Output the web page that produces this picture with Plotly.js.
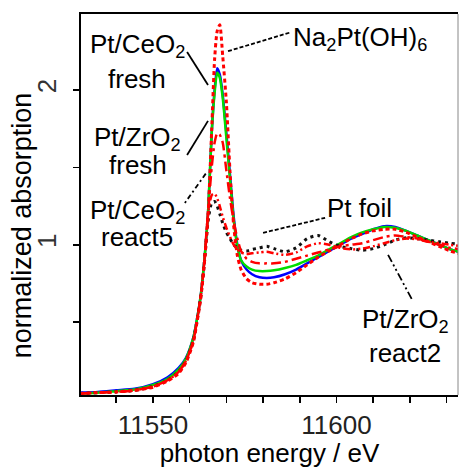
<!DOCTYPE html>
<html>
<head>
<meta charset="utf-8">
<script src="https://cdn.plot.ly/plotly-3.0.1.min.js"></script>
<style>html,body{margin:0;padding:0;background:#fff;}#chart{width:462px;height:468px;}</style>
</head>
<body>
<div id="chart"></div>
<script>
// photon energy grid (eV)
const energy = [11530, 11535, 11540, 11545, 11550, 11554, 11557, 11559, 11561, 11562, 11563, 11564, 11565, 11566, 11566.8, 11567.5, 11568.2, 11569, 11570, 11571, 11572, 11573, 11574, 11575.5, 11577, 11579, 11581, 11583, 11586, 11589, 11592, 11595, 11598, 11601, 11604, 11607, 11610, 11613, 11616, 11619, 11622, 11625, 11628, 11631, 11634];

// normalized absorption for each sample
const na2PtOH6 = [0.04, 0.045, 0.05, 0.06, 0.08, 0.12, 0.17, 0.24, 0.37, 0.5, 0.65, 0.88, 1.18, 1.74, 2.2, 2.38, 2.42, 2.22, 1.92, 1.47, 1.12, 0.93, 0.84, 0.78, 0.755, 0.745, 0.745, 0.755, 0.78, 0.82, 0.87, 0.92, 0.96, 1.0, 1.04, 1.07, 1.09, 1.1, 1.1, 1.08, 1.05, 1.02, 0.99, 0.96, 0.94];
const ptCeO2Fresh = [0.045, 0.05, 0.06, 0.07, 0.1, 0.145, 0.205, 0.27, 0.4, 0.52, 0.67, 0.9, 1.2, 1.72, 2.0, 2.14, 2.1, 1.97, 1.72, 1.45, 1.18, 1.0, 0.9, 0.84, 0.81, 0.79, 0.785, 0.79, 0.81, 0.84, 0.88, 0.92, 0.96, 1.0, 1.04, 1.07, 1.1, 1.12, 1.115, 1.09, 1.06, 1.03, 1.0, 0.97, 0.95];
const ptZrO2Fresh = [0.04, 0.045, 0.055, 0.065, 0.095, 0.135, 0.195, 0.265, 0.4, 0.52, 0.67, 0.9, 1.2, 1.72, 1.98, 2.11, 2.08, 1.95, 1.69, 1.42, 1.16, 0.99, 0.9, 0.86, 0.84, 0.83, 0.83, 0.835, 0.85, 0.87, 0.9, 0.93, 0.97, 1.01, 1.05, 1.08, 1.1, 1.115, 1.11, 1.09, 1.06, 1.03, 1.0, 0.97, 0.95];
const ptCeO2React5 = [0.04, 0.045, 0.05, 0.06, 0.085, 0.125, 0.18, 0.25, 0.38, 0.51, 0.66, 0.89, 1.2, 1.5, 1.66, 1.72, 1.71, 1.66, 1.48, 1.3, 1.15, 1.04, 0.96, 0.91, 0.89, 0.88, 0.88, 0.88, 0.89, 0.91, 0.93, 0.95, 0.97, 0.99, 1.0, 1.01, 1.03, 1.05, 1.06, 1.05, 1.04, 1.02, 1.0, 0.98, 0.97];
const ptZrO2React2 = [0.04, 0.045, 0.05, 0.06, 0.085, 0.125, 0.18, 0.25, 0.38, 0.51, 0.66, 0.89, 1.2, 1.32, 1.33, 1.3, 1.25, 1.18, 1.11, 1.05, 1.0, 0.97, 0.95, 0.94, 0.945, 0.95, 0.955, 0.945, 0.935, 0.95, 0.99, 1.01, 1.0, 0.98, 0.97, 0.975, 0.99, 1.01, 1.03, 1.04, 1.035, 1.02, 1.01, 1.0, 0.99];
const ptFoil = [0.04, 0.045, 0.05, 0.06, 0.085, 0.125, 0.18, 0.25, 0.38, 0.51, 0.66, 0.88, 1.15, 1.27, 1.28, 1.25, 1.2, 1.14, 1.08, 1.04, 1.0, 0.98, 0.965, 0.96, 0.97, 0.98, 0.99, 0.975, 0.955, 0.98, 1.04, 1.06, 1.02, 0.99, 0.975, 0.965, 0.975, 1.0, 1.03, 1.045, 1.04, 1.03, 1.02, 1.01, 1.0];

// tick labels
const xTickVals = [11550, 11600];
const xTickText = ['11550', '11600'];
const yTickVals = [1, 2];
const yTickText = ['1', '2'];

const FONT = 'Liberation Sans, Arial, sans-serif';

function tr(name, y, color, width, dash) {
  return {x: energy, y: y, name: name, type: 'scatter', mode: 'lines',
    line: {color: color, width: width, dash: dash, shape: 'spline', smoothing: 0.6},
    hoverinfo: 'x+y+name'};
}

const data = [
  tr('Pt/CeO2 fresh', ptCeO2Fresh, '#0000ff', 2.5, 'solid'),
  tr('Pt/ZrO2 fresh', ptZrO2Fresh, '#00dd00', 2.5, 'solid'),
  tr('Pt foil', ptFoil, '#111111', 3, '3px,4px'),
  tr('Pt/ZrO2 react2', ptZrO2React2, '#ff0000', 2.5, '7px,3px,2px,3px,2px,3px'),
  tr('Pt/CeO2 react5', ptCeO2React5, '#ff0000', 2.5, '10px,4px,3px,4px'),
  tr('Na2Pt(OH)6', na2PtOH6, '#ff0000', 3, '4px,3px')
];

function leader(x0, y0, x1, y1, dash) {
  return {type: 'line', xref: 'x', yref: 'y', x0: x0, y0: y0, x1: x1, y1: y1,
    line: {color: '#000', width: 1.8, dash: dash}};
}

const shapes = [
  leader(11559.3, 2.245, 11565.0, 2.032, 'solid'),
  leader(11559.3, 1.58, 11565.0, 1.80, 'solid'),
  leader(11558.7, 1.27, 11564.7, 1.47, '2px,3px,5px,3px'),
  leader(11570.45, 2.25, 11587.3, 2.37, '4px,2px'),
  leader(11580.0, 1.077, 11596.9, 1.174, '4px,2px'),
  leader(11614.05, 0.935, 11620.6, 0.645, '8px,3px,2px,3px,2px,3px'),
  // right frame line
  {type: 'line', xref: 'paper', yref: 'paper', x0: 1, x1: 1, y0: 0, y1: 1,
    line: {color: '#888', width: 1}}
];

function label(x, y, text) {
  return {x: x, y: y, xref: 'x', yref: 'y', text: text, showarrow: false,
    font: {family: FONT, size: 26, color: '#000'}, align: 'center',
    xanchor: 'center', yanchor: 'middle'};
}

const annotations = [
  label(11545.7, 2.284, 'Pt/CeO<sub>2</sub>'),
  label(11545.7, 2.071, 'fresh'),
  label(11545.9, 1.684, 'Pt/ZrO<sub>2</sub>'),
  label(11545.9, 1.516, 'fresh'),
  label(11545.7, 1.213, 'Pt/CeO<sub>2</sub>'),
  label(11545.7, 1.051, 'react5'),
  label(11606.4, 2.335, 'Na<sub>2</sub>Pt(OH)<sub>6</sub>'),
  label(11606.4, 1.238, 'Pt foil'),
  label(11618.7, 0.509, 'Pt/ZrO<sub>2</sub>'),
  label(11618.7, 0.303, 'react2'),
  // y-axis title
  {x: -0.156, y: 0.446, xref: 'paper', yref: 'paper', text: 'normalized absorption',
    showarrow: false, textangle: -90, xanchor: 'center', yanchor: 'middle',
    font: {family: FONT, size: 27, color: '#000'}}
];

const layout = {
  width: 462, height: 468,
  margin: {l: 81, r: 4, t: 14, b: 73, pad: 0},
  paper_bgcolor: '#fff', plot_bgcolor: '#fff',
  showlegend: false,
  font: {family: FONT, size: 26, color: '#000'},
  xaxis: {
    range: [11530.4, 11633.1], showgrid: false, zeroline: false,
    showline: true, linecolor: '#000', linewidth: 2, mirror: true,
    ticks: 'outside', ticklen: 6, tickwidth: 1.5, tickcolor: '#000',
    tickvals: xTickVals, ticktext: xTickText,
    tickfont: {family: FONT, size: 26, color: '#222'},
    minor: {dtick: 10, tick0: 11530, ticks: 'outside', ticklen: 6, tickwidth: 1.5, tickcolor: '#000', showgrid: false},
    title: {text: 'photon energy / eV', font: {family: FONT, size: 26, color: '#000'}, standoff: 6}
  },
  yaxis: {
    range: [0.03, 2.49], showgrid: false, zeroline: false,
    showline: true, linecolor: '#000', linewidth: 2, mirror: false,
    ticks: 'outside', ticklen: 6, tickwidth: 1.5, tickcolor: '#000',
    tickvals: yTickVals, ticktext: yTickText, tickangle: -90, ticklabelstandoff: 7,
    tickfont: {family: FONT, size: 26, color: '#333'},
    minor: {dtick: 0.5, tick0: 0, ticks: 'outside', ticklen: 6, tickwidth: 1.5, tickcolor: '#000', showgrid: false}
  },
  shapes: shapes,
  annotations: annotations
};

Plotly.newPlot('chart', data, layout, {displayModeBar: false, staticPlot: true});
</script>
</body>
</html>
